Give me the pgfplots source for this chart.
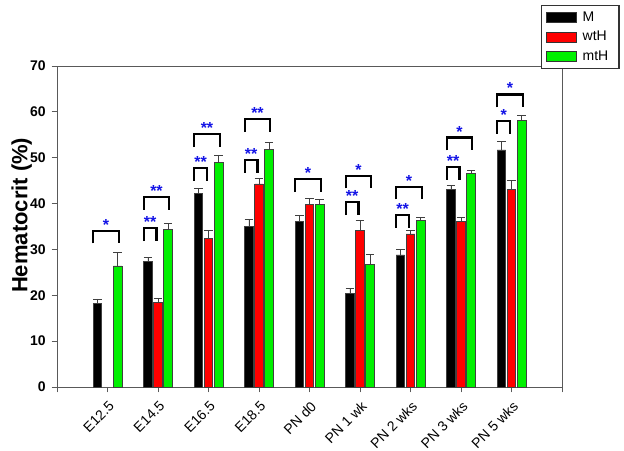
\documentclass[border=0pt]{standalone}
\usepackage{fontspec}
\setmainfont{Liberation Sans}
\usepackage{pgfplots}
\pgfplotsset{compat=1.18}
\usepackage{pgfplotstable}

\definecolor{barred}{RGB}{255,0,0}
\definecolor{bargreen}{RGB}{0,240,0}
\definecolor{starblue}{RGB}{20,20,230}

% M (black)
\pgfplotstableread{
x y e
-0.2 18.3 0.9
0.8 27.3 1.0
1.8 42.2 1.1
2.8 35.1 1.5
3.8 36.2 1.3
4.8 20.4 1.1
5.8 28.8 1.1
6.8 43.0 0.9
7.8 51.7 1.9
}\dataM
% wtH (red)
\pgfplotstableread{
x y e
1 18.5 0.8
2 32.4 1.8
3 44.3 1.2
4 39.9 1.3
5 34.1 2.2
6 33.4 0.7
7 36.2 0.8
8 43.0 2.1
}\dataW
% mtH (green)
\pgfplotstableread{
x y e
0.2 26.4 2.9
1.2 34.4 1.3
2.2 49.0 1.6
3.2 51.8 1.6
4.2 39.9 1.0
5.2 26.8 2.1
6.2 36.3 0.6
7.2 46.6 0.6
8.2 58.1 1.1
}\dataG

\begin{document}
\begin{tikzpicture}
\path[use as bounding box] (-42.75pt,-47.25pt) rectangle (425.25pt,290.25pt);
\begin{axis}[
  at={(0pt,0pt)}, anchor=south west,
  scale only axis,
  width=378.75pt, height=240.75pt,
  xmin=-1, xmax=9, ymin=0, ymax=70,
  xtick={-1,0,1,2,3,4,5,6,7,8,9},
  xticklabels={{},E12.5,E14.5,E16.5,E18.5,PN d0,PN 1 wk,PN 2 wks,PN 3 wks,PN 5 wks,{}},
  ytick={0,10,20,30,40,50,60,70},
  tick pos=left,
  tick align=outside,
  major tick length=4pt,
  axis line style={black!65, line width=0.7pt},
  tick style={black!65, line width=0.7pt},
  /pgf/number format/assume math mode=true,
  yticklabel style={font=\bfseries\fontsize{10.5}{12}\selectfont, xshift=-1pt},
  xticklabel style={font=\fontsize{10.5}{12}\selectfont, rotate=45, anchor=north east, xshift=-0.5pt, yshift=-1pt},
  ylabel={Hematocrit (\%)},
  ylabel style={font=\bfseries\fontsize{16.5}{18}\selectfont, at={(axis description cs:-0.070,0.535)}, anchor=center, rotate=0},
  legend style={at={(0.958,1.19)}, anchor=north west, draw=black!80, line width=0.8pt, fill=white,
    font=\fontsize{10.5}{12.5}\selectfont, inner xsep=3.5pt, inner ysep=2.5pt, row sep=2pt,
    nodes={inner xsep=4.5pt}},
  legend cell align=left,
  legend image code/.code={\draw[#1,draw=black!80,line width=0.5pt] (0pt,-3.75pt) rectangle (22.5pt,3.75pt);},
  clip=false,
]
\pgfplotsset{
  mybar/.style={ybar, bar width=0.17, bar shift=0pt, draw=black!75, line width=0.5pt,
    error bars/y dir=plus, error bars/y explicit, error bars/error mark=-,
    error bars/error bar style={black!75, line width=0.6pt},
    error bars/error mark options={rotate=90, black!75, line width=0.6pt, mark size=3.2pt}},
  brk/.style={black, line width=1.6pt, sharp plot, no marks, forget plot},
}
\addplot[mybar, fill=black] table[x=x, y=y, y error=e]{\dataM};
\addplot[mybar, fill=barred] table[x=x, y=y, y error=e]{\dataW};
\addplot[mybar, fill=bargreen] table[x=x, y=y, y error=e]{\dataG};
\legend{M,wtH,mtH}

% significance brackets
\addplot[brk] coordinates {(-0.28,31.3) (-0.28,34.1) (0.22,34.1) (0.22,31.3)};
\addplot[brk] coordinates {(0.72,31.8) (0.72,34.6) (0.97,34.6) (0.97,31.8)};
\addplot[brk] coordinates {(0.72,38.6) (0.72,41.4) (1.22,41.4) (1.22,38.6)};
\addplot[brk] coordinates {(1.72,45.0) (1.72,47.8) (1.97,47.8) (1.97,45.0)};
\addplot[brk] coordinates {(1.72,52.3) (1.72,55.1) (2.22,55.1) (2.22,52.3)};
\addplot[brk] coordinates {(2.72,46.7) (2.72,49.5) (2.97,49.5) (2.97,46.7)};
\addplot[brk] coordinates {(2.72,55.6) (2.72,58.4) (3.22,58.4) (3.22,55.6)};
\addplot[brk] coordinates {(3.72,42.5) (3.72,45.3) (4.22,45.3) (4.22,42.5)};
\addplot[brk] coordinates {(4.72,37.5) (4.72,40.3) (4.97,40.3) (4.97,37.5)};
\addplot[brk] coordinates {(4.72,43.3) (4.72,46.1) (5.22,46.1) (5.22,43.3)};
\addplot[brk] coordinates {(5.72,34.7) (5.72,37.5) (5.97,37.5) (5.97,34.7)};
\addplot[brk] coordinates {(5.72,40.9) (5.72,43.7) (6.22,43.7) (6.22,40.9)};
\addplot[brk] coordinates {(6.72,45.2) (6.72,48.0) (6.97,48.0) (6.97,45.2)};
\addplot[brk] coordinates {(6.72,51.6) (6.72,54.4) (7.22,54.4) (7.22,51.6)};
\addplot[brk] coordinates {(7.72,55.2) (7.72,58.0) (7.97,58.0) (7.97,55.2)};
\addplot[brk] coordinates {(7.72,61.0) (7.72,63.8) (8.22,63.8) (8.22,61.0)};

\tikzset{star/.style={anchor=base, inner sep=0pt, text=starblue, font=\bfseries\fontsize{12}{14}\selectfont}}
\node[star] at (axis cs:-0.03,34.2) {*};
\node[star] at (axis cs:0.845,34.7) {**};
\node[star] at (axis cs:0.97,41.5) {**};
\node[star] at (axis cs:1.845,47.9) {**};
\node[star] at (axis cs:1.97,55.2) {**};
\node[star] at (axis cs:2.845,49.6) {**};
\node[star] at (axis cs:2.97,58.5) {**};
\node[star] at (axis cs:3.97,45.4) {*};
\node[star] at (axis cs:4.845,40.4) {**};
\node[star] at (axis cs:4.97,46.2) {*};
\node[star] at (axis cs:5.845,37.6) {**};
\node[star] at (axis cs:5.97,43.8) {*};
\node[star] at (axis cs:6.845,48.1) {**};
\node[star] at (axis cs:6.97,54.5) {*};
\node[star] at (axis cs:7.845,58.1) {*};
\node[star] at (axis cs:7.97,63.9) {*};
\end{axis}
\end{tikzpicture}
\end{document}
